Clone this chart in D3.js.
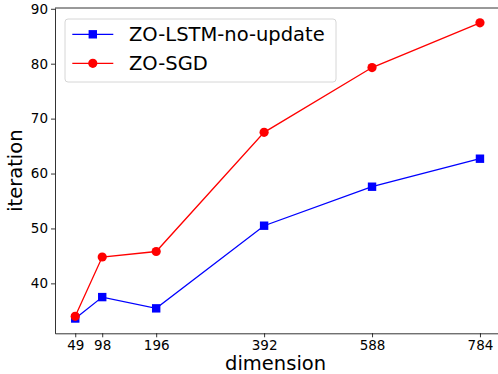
<!DOCTYPE html>
<html>
<head>
<meta charset="utf-8">
<script src="https://cdn.jsdelivr.net/npm/d3@7"></script>
<style>
  body { margin: 0; background: #fff; }
  svg { display: block; font-family: "DejaVu Sans", sans-serif; }
</style>
</head>
<body>
<div id="chart"></div>
<script>
// chart values
var dims = [49, 98, 196, 392, 588, 784];
var lstmNoUpdate = [33.6, 37.5, 35.45, 50.5, 57.6, 62.7];
var zoSgd = [34.0, 44.8, 45.8, 67.5, 79.3, 87.45];
var yTicks = [40, 50, 60, 70, 80, 90];
var seriesNames = ["ZO-LSTM-no-update", "ZO-SGD"];

function init(){
    var w = 498;
    var h = 374;
    var left = 55, top = 8, right = 500.2, bottom = 333.3;

    var svg = d3.select("#chart")
                .append("svg")
                .attr("width", w)
                .attr("height", h);

    // matplotlib style 5% margins
    var xPad = (d3.max(dims) - d3.min(dims)) * 0.05;
    var allY = lstmNoUpdate.concat(zoSgd);
    var yPad = (d3.max(allY) - d3.min(allY)) * 0.05;

    var x = d3.scaleLinear()
        .domain([d3.min(dims) - xPad, d3.max(dims) + xPad])
        .range([left, right]);
    var y = d3.scaleLinear()
        .domain([d3.min(allY) - yPad, d3.max(allY) + yPad])
        .range([bottom, top]);

    // axes
    var xAxis = svg.append("g")
        .attr("transform", "translate(0," + bottom + ")")
        .call(d3.axisBottom(x).tickValues(dims).tickFormat(d3.format("d")).tickSize(4).tickPadding(3).tickSizeOuter(0));
    var yAxis = svg.append("g")
        .attr("transform", "translate(" + left + ",0)")
        .call(d3.axisLeft(y).tickValues(yTicks).tickFormat(d3.format("d")).tickSize(4).tickPadding(3).tickSizeOuter(0));

    [xAxis, yAxis].forEach(function(g){
        g.selectAll("text").attr("font-size", 13.5).attr("fill", "#000")
            .attr("font-family", "DejaVu Sans");
        g.selectAll("line").attr("stroke", "#000").attr("stroke-width", 0.8);
        g.select(".domain").attr("stroke", "#000").attr("stroke-width", 0.8);
    });

    // top spine
    svg.append("line")
        .attr("x1", left).attr("x2", right)
        .attr("y1", top).attr("y2", top)
        .attr("stroke", "#000").attr("stroke-width", 0.8);

    // axis titles
    svg.append("text")
        .attr("x", (left + right) / 2 - 2)
        .attr("y", 370)
        .attr("text-anchor", "middle")
        .attr("font-size", 19.5)
        .attr("fill", "#000")
        .text("dimension");
    svg.append("text")
        .attr("transform", "translate(22," + (top + bottom) / 2 + ") rotate(-90)")
        .attr("text-anchor", "middle")
        .attr("font-size", 19.5)
        .attr("fill", "#000")
        .text("iteration");

    var line = d3.line()
        .x(function(d, i){ return x(dims[i]); })
        .y(function(d){ return y(d); });

    // blue series
    svg.append("path")
        .datum(lstmNoUpdate)
        .attr("d", line)
        .attr("fill", "none")
        .attr("stroke", "#0000ff")
        .attr("stroke-width", 1.3);
    svg.selectAll("rect.blue")
        .data(lstmNoUpdate)
        .enter()
        .append("rect")
        .attr("class", "blue")
        .attr("x", function(d, i){ return x(dims[i]) - 4.2; })
        .attr("y", function(d){ return y(d) - 4.2; })
        .attr("width", 8.4)
        .attr("height", 8.4)
        .attr("fill", "#0000ff");

    // red series
    svg.append("path")
        .datum(zoSgd)
        .attr("d", line)
        .attr("fill", "none")
        .attr("stroke", "#ff0000")
        .attr("stroke-width", 1.3);
    svg.selectAll("circle.red")
        .data(zoSgd)
        .enter()
        .append("circle")
        .attr("class", "red")
        .attr("cx", function(d, i){ return x(dims[i]); })
        .attr("cy", function(d){ return y(d); })
        .attr("r", 4.6)
        .attr("fill", "#ff0000");

    // legend
    var leg = svg.append("g");
    leg.append("rect")
        .attr("x", 65).attr("y", 19)
        .attr("width", 271).attr("height", 63)
        .attr("rx", 3)
        .attr("fill", "#fff").attr("fill-opacity", 0.8)
        .attr("stroke", "#cccccc").attr("stroke-width", 0.8);

    var colors = ["#0000ff", "#ff0000"];
    seriesNames.forEach(function(name, i){
        var ly = 34.3 + i * 29;
        leg.append("line")
            .attr("x1", 72.3).attr("x2", 113.3)
            .attr("y1", ly).attr("y2", ly)
            .attr("stroke", colors[i]).attr("stroke-width", 1.3);
        if (i === 0) {
            leg.append("rect")
                .attr("x", 92.8 - 4.2).attr("y", ly - 4.2)
                .attr("width", 8.4).attr("height", 8.4)
                .attr("fill", colors[i]);
        } else {
            leg.append("circle")
                .attr("cx", 92.8).attr("cy", ly)
                .attr("r", 4.6)
                .attr("fill", colors[i]);
        }
        leg.append("text")
            .attr("x", 129)
            .attr("y", ly + 7)
            .attr("font-size", 19.5)
            .attr("fill", "#000")
            .text(name);
    });
}
window.onload = init;
</script>
</body>
</html>
